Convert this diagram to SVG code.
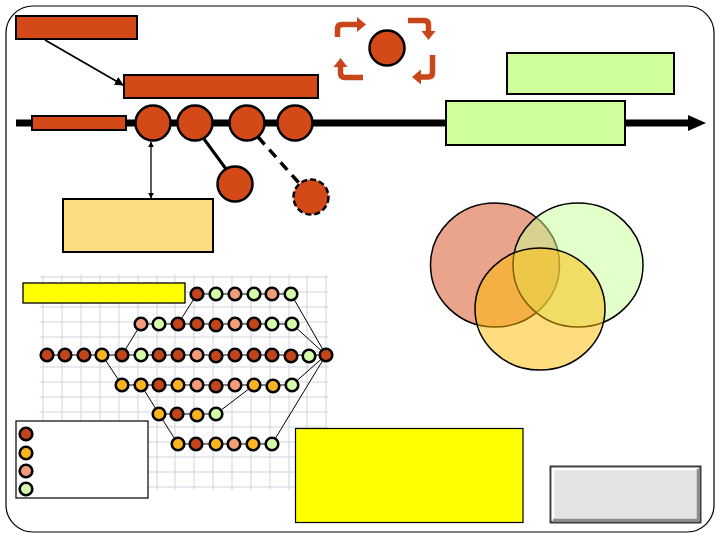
<svg xmlns="http://www.w3.org/2000/svg" width="720" height="540" viewBox="0 0 720 540">
<style>
.or{fill:#D34A18;stroke:#000;stroke-width:2}
.big{fill:#D34A18;stroke:#000;stroke-width:2.5}
.grn{fill:#CFFF9B;stroke:#000;stroke-width:2}
.grid line{stroke:#CDD5DD;stroke-width:1}
.b circle{stroke:#000;stroke-width:2.6}
.d{fill:#C4451C}.s{fill:#F29C7A}.y{fill:#F8B520}.g{fill:#D4FBAA}
.cyc{fill:none;stroke:#C8461A;stroke-width:5.5}
.cyh{fill:#C8461A}
.thin{stroke:#000;stroke-width:1;fill:none}
</style>
<defs>
<marker id="ah" viewBox="0 0 10 10" refX="9" refY="5" markerWidth="9" markerHeight="9" orient="auto" markerUnits="userSpaceOnUse"><path d="M0,0 L10,5 L0,10 Z" fill="#000"/></marker>
<marker id="ah2" viewBox="0 0 10 10" refX="9" refY="5" markerWidth="6" markerHeight="6" orient="auto-start-reverse" markerUnits="userSpaceOnUse"><path d="M0,0 L10,5 L0,10 Z" fill="#000"/></marker>
</defs>
<rect x="0" y="0" width="720" height="540" fill="#fff"/>
<rect id="frame" x="6" y="6" width="708" height="526" rx="27" ry="27" fill="#fff" stroke="#000" stroke-width="1.2"/>

<g id="grid" class="grid">
<line x1="43" y1="275" x2="43" y2="490"/><line x1="62" y1="275" x2="62" y2="490"/><line x1="81" y1="275" x2="81" y2="490"/><line x1="100" y1="275" x2="100" y2="490"/><line x1="119" y1="275" x2="119" y2="490"/><line x1="138" y1="275" x2="138" y2="490"/><line x1="157" y1="275" x2="157" y2="490"/><line x1="175" y1="275" x2="175" y2="490"/><line x1="194" y1="275" x2="194" y2="490"/><line x1="213" y1="275" x2="213" y2="490"/><line x1="232" y1="275" x2="232" y2="490"/><line x1="251" y1="275" x2="251" y2="490"/><line x1="270" y1="275" x2="270" y2="490"/><line x1="289" y1="275" x2="289" y2="490"/><line x1="307" y1="275" x2="307" y2="490"/><line x1="326" y1="275" x2="326" y2="490"/>
<line x1="40" y1="277" x2="328" y2="277"/><line x1="40" y1="292" x2="328" y2="292"/><line x1="40" y1="307" x2="328" y2="307"/><line x1="40" y1="322" x2="328" y2="322"/><line x1="40" y1="337" x2="328" y2="337"/><line x1="40" y1="352" x2="328" y2="352"/><line x1="40" y1="367" x2="328" y2="367"/><line x1="40" y1="382" x2="328" y2="382"/><line x1="40" y1="397" x2="328" y2="397"/><line x1="40" y1="412" x2="328" y2="412"/><line x1="40" y1="427" x2="328" y2="427"/><line x1="40" y1="442" x2="328" y2="442"/><line x1="40" y1="457" x2="328" y2="457"/><line x1="40" y1="472" x2="328" y2="472"/><line x1="40" y1="487" x2="328" y2="487"/>
</g>

<g id="connectors">
<line x1="16" y1="123" x2="690" y2="123" stroke="#000" stroke-width="7"/>
<path d="M688,115 L706,123 L688,131 Z" fill="#000"/>
<line x1="45" y1="40" x2="123" y2="85" stroke="#000" stroke-width="1.8" marker-end="url(#ah)"/>
<line x1="151" y1="142" x2="151" y2="198" stroke="#000" stroke-width="1.3" marker-start="url(#ah2)" marker-end="url(#ah2)"/>
<line x1="204" y1="139" x2="226" y2="169" stroke="#000" stroke-width="3"/>
<line x1="258" y1="137" x2="299" y2="183" stroke="#000" stroke-width="3.5" stroke-dasharray="10,7"/>
<g class="thin">
<line x1="197" y1="294" x2="291" y2="294"/>
<line x1="141" y1="324" x2="292" y2="324"/>
<line x1="47" y1="355" x2="326" y2="355"/>
<line x1="122" y1="385" x2="292" y2="385"/>
<line x1="159" y1="414" x2="216" y2="414"/>
<line x1="178" y1="444" x2="272" y2="444"/>
<line x1="197" y1="294" x2="178" y2="324"/>
<line x1="141" y1="324" x2="122" y2="355"/>
<line x1="102" y1="355" x2="122" y2="385"/>
<line x1="141" y1="385" x2="159" y2="414"/>
<line x1="159" y1="414" x2="178" y2="444"/>
<line x1="216" y1="414" x2="254" y2="385"/>
<line x1="272" y1="444" x2="326" y2="355"/>
<line x1="291" y1="294" x2="326" y2="355"/>
<line x1="292" y1="324" x2="326" y2="355"/>
<line x1="292" y1="385" x2="326" y2="355"/>
</g>
</g>

<g id="box-top-left"><rect class="or" x="16" y="16" width="121" height="23"/></g>
<g id="box-top-mid"><rect class="or" x="124" y="75" width="194" height="23"/></g>
<g id="box-line"><rect class="or" x="32" y="116" width="94" height="14"/></g>
<g id="c1"><circle class="big" cx="153" cy="123" r="17.5"/></g>
<g id="c2"><circle class="big" cx="195" cy="123" r="17.5"/></g>
<g id="c3"><circle class="big" cx="247" cy="123" r="17.5"/></g>
<g id="c4"><circle class="big" cx="295" cy="123" r="17.5"/></g>
<g id="c5"><circle class="big" cx="235" cy="184" r="17.5"/></g>
<g id="c6"><circle cx="311" cy="197" r="17.5" fill="#D34A18" stroke="#000" stroke-width="2.5" stroke-dasharray="6,3"/></g>
<g id="box-beige"><rect x="63" y="199" width="150" height="53" fill="#FEDC82" stroke="#000" stroke-width="2"/></g>

<g id="cycle">
<circle class="big" cx="387" cy="48" r="17.5"/>
<path class="cyc" d="M337.5,37 V29 Q337.5,24.5 342,24.5 H358"/><path class="cyh" d="M357,17 L366,24.5 L357,32 Z"/>
<path class="cyc" d="M408,20.5 H424 Q428.5,20.5 428.5,25 V32"/><path class="cyh" d="M421.5,31 L435.5,31 L428.5,40 Z"/>
<path class="cyc" d="M432.5,55 V72.5 Q432.5,77 428,77 H420"/><path class="cyh" d="M421,69.5 L421,84.5 L412,77 Z"/>
<path class="cyc" d="M363,77.5 H345 Q340.5,77.5 340.5,73 V66"/><path class="cyh" d="M333.5,67 L347.5,67 L340.5,58 Z"/>
</g>

<g id="box-green-1"><rect class="grn" x="507" y="53" width="167" height="41"/></g>
<g id="box-green-2"><rect class="grn" x="446" y="101" width="179" height="44"/></g>

<g id="venn" stroke="#000" stroke-width="1.5">
<ellipse cx="495" cy="265" rx="64.5" ry="62" fill="#D34A18" fill-opacity="0.5"/>
<ellipse cx="578" cy="265" rx="65" ry="62" fill="#C8FF96" fill-opacity="0.5"/>
<ellipse cx="540" cy="309" rx="65" ry="61" fill="#FFBC00" fill-opacity="0.5"/>
</g>

<g id="bar-yellow"><rect x="23" y="283" width="162" height="20" fill="#FFFF00" stroke="#000" stroke-width="1.3"/></g>

<g id="beads" class="b">
<circle class="d" cx="197" cy="294" r="6.3"/><circle class="g" cx="216" cy="294" r="6.3"/><circle class="s" cx="235" cy="294" r="6.3"/><circle class="g" cx="254" cy="294" r="6.3"/><circle class="s" cx="272" cy="294" r="6.3"/><circle class="g" cx="291" cy="294" r="6.3"/>
<circle class="s" cx="141" cy="324" r="6.3"/><circle class="g" cx="159" cy="324" r="6.3"/><circle class="d" cx="178" cy="324" r="6.3"/><circle class="d" cx="197" cy="324" r="6.3"/><circle class="d" cx="216" cy="325" r="6.3"/><circle class="s" cx="235" cy="324" r="6.3"/><circle class="d" cx="254" cy="324" r="6.3"/><circle class="g" cx="272" cy="324" r="6.3"/><circle class="g" cx="292" cy="324" r="6.3"/>
<circle class="d" cx="47" cy="355" r="6.3"/><circle class="d" cx="65" cy="355" r="6.3"/><circle class="d" cx="84" cy="355" r="6.3"/><circle class="y" cx="102" cy="355" r="6.3"/><circle class="d" cx="122" cy="355" r="6.3"/><circle class="g" cx="141" cy="355" r="6.3"/><circle class="d" cx="159" cy="355" r="6.3"/><circle class="d" cx="178" cy="355" r="6.3"/><circle class="s" cx="197" cy="355" r="6.3"/><circle class="d" cx="216" cy="356" r="6.3"/><circle class="d" cx="235" cy="355" r="6.3"/><circle class="d" cx="254" cy="355" r="6.3"/><circle class="d" cx="272" cy="355" r="6.3"/><circle class="d" cx="291" cy="356" r="6.3"/><circle class="g" cx="309" cy="356" r="6.3"/><circle class="d" cx="326" cy="355" r="6.3"/>
<circle class="y" cx="122" cy="385" r="6.3"/><circle class="y" cx="141" cy="385" r="6.3"/><circle class="d" cx="159" cy="385" r="6.3"/><circle class="y" cx="178" cy="385" r="6.3"/><circle class="s" cx="197" cy="385" r="6.3"/><circle class="d" cx="216" cy="386" r="6.3"/><circle class="s" cx="235" cy="385" r="6.3"/><circle class="y" cx="254" cy="385" r="6.3"/><circle class="y" cx="273" cy="386" r="6.3"/><circle class="g" cx="292" cy="385" r="6.3"/>
<circle class="y" cx="159" cy="414" r="6.3"/><circle class="d" cx="177" cy="414" r="6.3"/><circle class="y" cx="197" cy="415" r="6.3"/><circle class="g" cx="216" cy="414" r="6.3"/>
<circle class="y" cx="178" cy="444" r="6.3"/><circle class="d" cx="196" cy="444" r="6.3"/><circle class="y" cx="216" cy="444" r="6.3"/><circle class="s" cx="234" cy="444" r="6.3"/><circle class="y" cx="253" cy="444" r="6.3"/><circle class="g" cx="272" cy="444" r="6.3"/>
</g>

<g id="legend">
<rect x="16" y="421" width="132" height="77" fill="#fff" stroke="#000" stroke-width="1.2"/>
<g class="b">
<circle class="d" cx="26" cy="434" r="6.3"/><circle class="y" cx="26" cy="453" r="6.3"/><circle class="s" cx="26" cy="471" r="6.3"/><circle class="g" cx="26" cy="489" r="6.3"/>
</g>
</g>

<g id="box-yellow"><rect x="295.5" y="428.5" width="227.5" height="94" fill="#FFFF00" stroke="#000" stroke-width="1.2"/></g>

<g id="button">
<rect x="550.5" y="466.5" width="150" height="56" fill="#E4E4E4" stroke="#3A3A3A" stroke-width="2"/>
<path d="M553,520 V469 H698" fill="none" stroke="#fff" stroke-width="2.5"/>
<path d="M553,520 H698 V469" fill="none" stroke="#8C8C8C" stroke-width="2.5"/>
</g>
</svg>
